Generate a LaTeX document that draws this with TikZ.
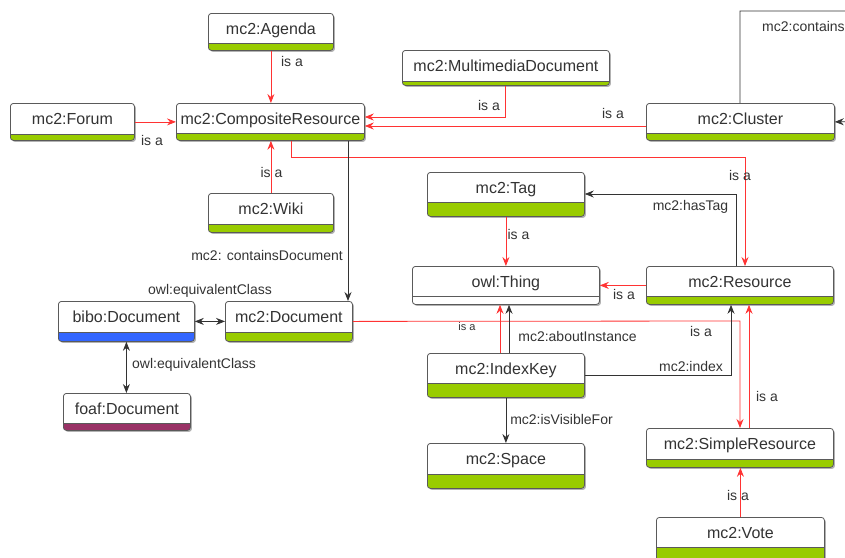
\documentclass[tikz,border=0pt]{standalone}
\usepackage{fontspec}
\setmainfont{Liberation Sans}
\usetikzlibrary{arrows.meta,shadows}
\definecolor{bordercol}{HTML}{5A5A5A}
\definecolor{barGreen}{HTML}{99CC00}
\definecolor{barBlue}{HTML}{3366FF}
\definecolor{barPurple}{HTML}{993366}
\definecolor{isared}{HTML}{FF3333}
\definecolor{relgray}{HTML}{333333}
\definecolor{txt}{HTML}{333333}
\tikzset{
 cls/.style={draw=bordercol, fill=white, line width=0.8pt, rounded corners=3pt, inner xsep=0pt, inner ysep=0pt, minimum height=0pt, text=txt, font=\fontsize{16}{19}\selectfont, drop shadow={shadow xshift=1.5pt, shadow yshift=-1.5pt, opacity=0.3, fill=black}},
 isa/.style={draw=isared, line width=0.8pt, -{Stealth[length=9pt,width=7pt,inset=3pt]}},
 rel/.style={draw=relgray, line width=0.8pt, -{Stealth[length=9pt,width=7pt,inset=3pt]}},
 birel/.style={draw=relgray, line width=0.8pt, {Stealth[length=9pt,width=7pt,inset=3pt]}-{Stealth[length=9pt,width=7pt,inset=3pt]}},
 lbl/.style={text=txt, font=\fontsize{14}{16}\selectfont, inner sep=0pt},
 slbl/.style={text=txt, font=\fontsize{11}{13}\selectfont, inner sep=0pt},
}
\newcommand\umlcls[8]{%
 \pgfmathsetmacro\clsw{#4-#2}%
 \pgfmathsetmacro\clsth{(#5-#3-#6)/2+5.7}%
 \pgfmathsetmacro\clstd{(#5-#3+#6)/2-5.7}%
 \node[cls, anchor=north west, minimum width=\clsw pt, text height=\clsth pt, text depth=\clstd pt, path picture={%
   \fill[#7, sharp corners] (path picture bounding box.south west) rectangle ([yshift=#6pt]path picture bounding box.south east);
   \draw[bordercol, line width=0.8pt, sharp corners] ([yshift=#6pt]path picture bounding box.south west) -- ([yshift=#6pt]path picture bounding box.south east);}] (#1) at (#2,#3) {#8};}
\begin{document}
\begin{tikzpicture}[x=1pt,y=-1pt]
\useasboundingbox (0,0) rectangle (845,557);
\clip (0,0) rectangle (845,557);
% classes
\umlcls{agenda}{208}{13}{333}{50}{7}{barGreen}{mc2:Agenda}
\umlcls{forum}{10}{103}{134}{140}{6}{barGreen}{mc2:Forum}
\umlcls{comp}{176}{103}{364}{140}{7}{barGreen}{mc2:CompositeResource}
\umlcls{mmdoc}{402}{50}{609}{85}{4}{barGreen}{mc2:MultimediaDocument}
\umlcls{cluster}{646}{103}{834}{140}{7}{barGreen}{mc2:Cluster}
\umlcls{wiki}{208}{193}{333}{232}{8}{barGreen}{mc2:Wiki}
\umlcls{tag}{427}{172}{584}{216}{14}{barGreen}{mc2:Tag}
\umlcls{thing}{412}{266}{599}{304}{8}{white}{owl:Thing}
\umlcls{resource}{646}{266}{833}{304}{8}{barGreen}{mc2:Resource}
\umlcls{bibo}{58}{301}{194}{341}{9}{barBlue}{bibo:Document}
\umlcls{mdoc}{225}{301}{352}{341}{9}{barGreen}{mc2:Document}
\umlcls{foaf}{63}{393}{190}{430}{7}{barPurple}{foaf:Document}
\umlcls{indexkey}{427}{353}{584}{397}{14}{barGreen}{mc2:IndexKey}
\umlcls{space}{427}{443}{584}{488}{14}{barGreen}{mc2:Space}
\umlcls{simple}{646}{428}{833}{467}{8}{barGreen}{mc2:SimpleResource}
\umlcls{vote}{656}{517}{824}{562}{15}{barGreen}{mc2:Vote}
% helper coordinates
\coordinate (m1) at (505,117);
\coordinate (k1) at (640,126);
\coordinate (r1) at (291,157);
\coordinate (r2) at (745,157);
\coordinate (d1) at (348,200);
\coordinate (s1) at (740,321);
\coordinate (s2) at (749,380);
\coordinate (h1) at (736,194);
\coordinate (i1) at (500,330);
\coordinate (i2) at (509,330);
\coordinate (x1) at (731,375);
\coordinate (e1) at (740,11);
\coordinate (e2) at (860,11);
\coordinate (e3) at (860,121.5);
% is-a connectors
\draw[isa] (agenda.south) -- (agenda.south |- comp.north);
\draw[isa] (forum.east) -- (forum.east -| comp.west);
\draw[isa] (wiki.north) -- (wiki.north |- comp.south);
\draw[isa] (mmdoc.south -| m1) -- (m1) -- (m1 -| comp.east);
\draw[isa] (cluster.west |- k1) -- (k1 -| comp.east);
\draw[isa] (comp.south -| r1) -- (r1) -- (r2) -- (r2 |- resource.north);
\draw[isa] (mdoc.east) -- (s1) -- (s1 |- simple.north);
\draw[isa] (simple.north -| s2) -- (s2 |- resource.south);
\draw[isa] (vote.north) -- (vote.north |- simple.south);
\draw[isa] (tag.south) -- (tag.south |- thing.north);
\draw[isa] (resource.west) -- (resource.west -| thing.east);
\draw[isa] (indexkey.north -| i1) -- (i1 |- thing.south);
% relations
\draw[rel] (comp.south -| d1) -- (d1 |- mdoc.north);
\draw[birel] (bibo.east) -- (mdoc.west);
\draw[birel] (bibo.south) -- (bibo.south |- foaf.north);
\draw[rel] (resource.north -| h1) -- (h1) -- (h1 -| tag.east);
\draw[rel] (indexkey.north -| i2) -- (i2 |- thing.south);
\draw[rel] (indexkey.east |- x1) -- (x1) -- (x1 |- resource.south);
\draw[rel] (indexkey.south) -- (indexkey.south |- space.north);
\draw[rel] (cluster.north -| e1) -- (e1) -- (e2) -- (e3) -- (cluster.east);
% labels
\node[lbl] (l1) at (292,61) {is a};
\node[lbl] (l2) at (152,140) {is a};
\node[lbl] (l3) at (271.5,172) {is a};
\node[lbl] (l4) at (489,105) {is a};
\node[lbl] (l5) at (613,113) {is a};
\node[lbl] (l6) at (740,175) {is a};
\node[lbl, anchor=east] (l7) at (343,255) {mc2: containsDocument};
\node[lbl] (l8) at (210,291) {owl:equivalentClass};
\node[lbl, anchor=west] (l9) at (132,365) {owl:equivalentClass};
\node[slbl] (l10) at (467,327) {is a};
\node[lbl] (l11) at (701,331) {is a};
\node[lbl] (l12) at (767,396) {is a};
\node[lbl] (l13) at (738,495) {is a};
\node[lbl] (l14) at (518.5,234) {is a};
\node[lbl] (l15) at (624,294) {is a};
\node[lbl] (l16) at (690.5,207) {mc2:hasTag};
\node[lbl] (l17) at (577.5,336) {mc2:aboutInstance};
\node[lbl] (l18) at (691,366) {mc2:index};
\node[lbl] (l19) at (561.5,419) {mc2:isVisibleFor};
\node[lbl, anchor=west] (l20) at (762,26) {mc2:contains};
\end{tikzpicture}
\end{document}
